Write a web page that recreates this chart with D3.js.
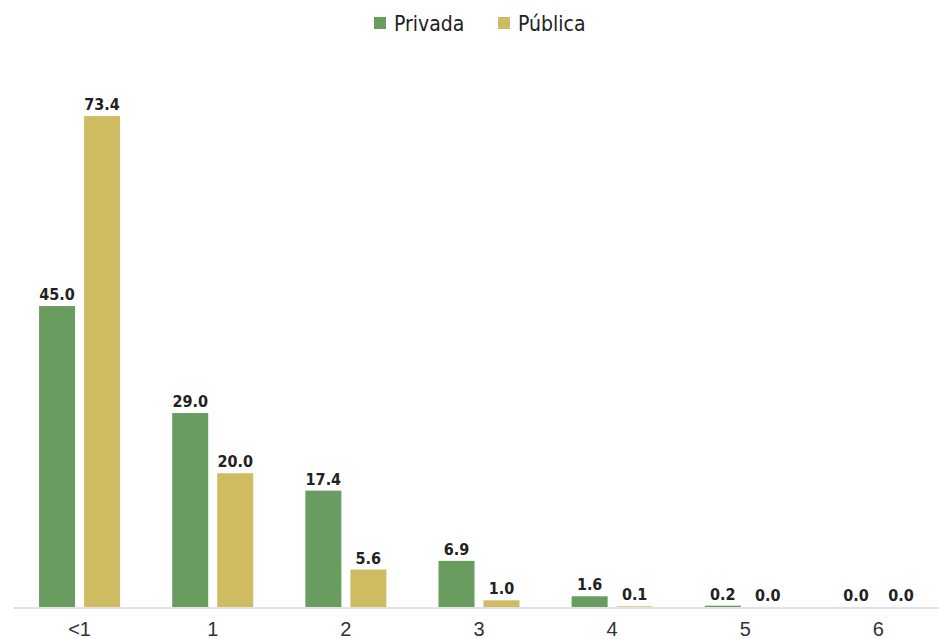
<!DOCTYPE html>
<html>
<head>
<meta charset="utf-8">
<script src="https://cdn.jsdelivr.net/npm/d3@7"></script>
<style>
  body { margin: 0; background: #fff; }
  svg { display: block; font-family: "Liberation Sans Narrow", "DejaVu Sans Condensed", "Roboto Condensed", sans-serif; }
</style>
</head>
<body>
<div id="chart"></div>
<script>
const categories = ["<1", "1", "2", "3", "4", "5", "6"];
const seriesNames = ["Privada", "Pública"];
const privada = [45.0, 29.0, 17.4, 6.9, 1.6, 0.2, 0.0];
const publica = [73.4, 20.0, 5.6, 1.0, 0.1, 0.0, 0.0];
const colors = ["#699c5f", "#cfbb61"];

const width = 939, height = 639;
const svg = d3.select("#chart").append("svg")
    .attr("width", width)
    .attr("height", height);

const x = d3.scaleBand()
    .domain(categories)
    .range([13, 945])
    .paddingInner(0)
    .paddingOuter(0);

// two bars per group, 36px wide with a 9px gap
const x1 = d3.scaleBand()
    .domain(seriesNames)
    .range([x.bandwidth() / 2 - 40.5, x.bandwidth() / 2 + 40.5])
    .paddingInner(0.2);

const y = d3.scaleLinear()
    .domain([0, 80])
    .range([607, 72]);

const rows = categories.map((c, i) => ({
  cat: c,
  vals: [
    { s: "Privada", v: privada[i], col: colors[0] },
    { s: "Pública", v: publica[i], col: colors[1] }
  ]
}));

// axis line + labels
const xAxis = svg.append("g")
    .attr("transform", "translate(0,607.5)")
    .call(d3.axisBottom(x).tickSize(0).tickPadding(14));
xAxis.select(".domain").attr("stroke", "#d9d9d9").attr("stroke-width", 1.5);
xAxis.selectAll("text")
    .attr("font-size", 20)
    .attr("fill", "#333")
    .style("font-family", "inherit");

const g = svg.selectAll("g.cat")
  .data(rows)
  .join("g")
    .attr("class", "cat")
    .attr("transform", d => `translate(${x(d.cat)},0)`);

g.selectAll("rect")
  .data(d => d.vals)
  .join("rect")
    .attr("x", d => x1(d.s))
    .attr("width", x1.bandwidth())
    .attr("y", d => y(d.v))
    .attr("height", d => y(0) - y(d.v))
    .attr("fill", d => d.col);

g.selectAll("text.val")
  .data(d => d.vals)
  .join("text")
    .attr("class", "val")
    .attr("x", d => x1(d.s) + x1.bandwidth() / 2)
    .attr("y", d => y(d.v) - 6)
    .attr("text-anchor", "middle")
    .attr("font-size", 16)
    .attr("font-weight", "bold")
    .attr("fill", "#222")
    .text(d => d.v.toFixed(1));

// legend
const legend = svg.append("g");
const legX = [374, 498];
seriesNames.forEach((s, i) => {
  legend.append("rect")
    .attr("x", legX[i]).attr("y", 17)
    .attr("width", 12).attr("height", 12)
    .attr("fill", colors[i]);
  legend.append("text")
    .attr("x", legX[i] + 20).attr("y", 31)
    .attr("font-size", 21)
    .attr("fill", "#222")
    .text(s);
});
</script>
</body>
</html>
